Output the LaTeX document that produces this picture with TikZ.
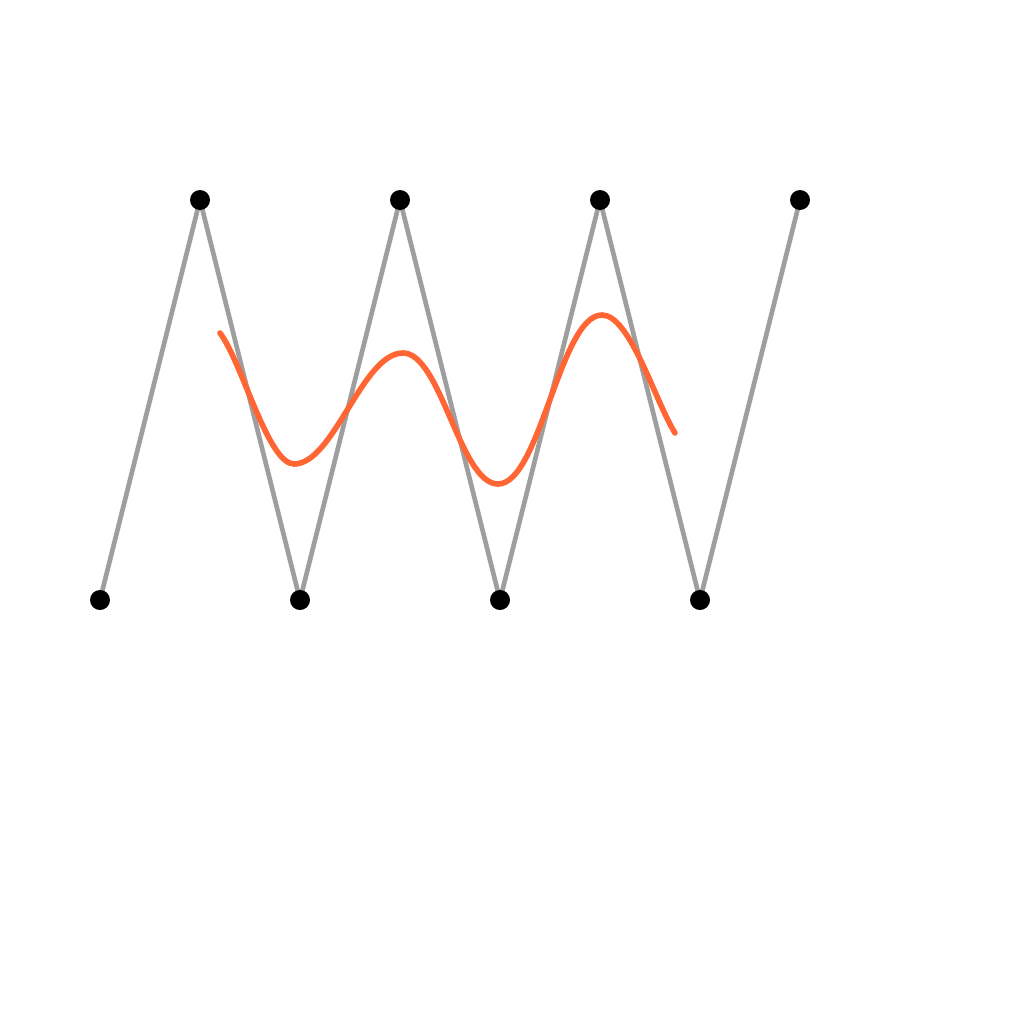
\documentclass[tikz,border=0pt]{standalone}
\definecolor{zig}{HTML}{9E9E9E}
\definecolor{wave}{HTML}{FF6633}
\tikzset{
  zigline/.style={draw=zig,line width=3.5pt},
  waveline/.style={draw=wave,line width=4.2pt,line cap=round},
  dot/.style={circle,fill=black,inner sep=0pt,minimum size=15pt}
}
\begin{document}
\begin{tikzpicture}[x=0.75pt,y=-0.75pt]
\useasboundingbox (0,0) rectangle (1024,1024);
\foreach \i/\x/\y in {a/100/600,b/200/200,c/300/600,d/400/200,e/500/600,f/600/200,g/700/600,h/800/200}
  \coordinate (\i) at (\x,\y);
\draw[zigline,line join=round] (a) -- (b) -- (c) -- (d) -- (e) -- (f) -- (g) -- (h);
\coordinate (s) at (220,333);
\coordinate (m1) at (294,464);
\coordinate (M1) at (403,353);
\coordinate (m2) at (498,484);
\coordinate (M2) at (602,315);
\coordinate (t) at (675,433);
\draw[waveline] (s) .. controls (242,362) and (268,464) .. (m1)
  .. controls (334,464) and (362,353) .. (M1)
  .. controls (441,353) and (460,484) .. (m2)
  .. controls (540,484) and (560,315) .. (M2)
  .. controls (630,315) and (655,401) .. (t);
\foreach \i in {a,b,c,d,e,f,g,h}
  \node[dot] (n\i) at (\i) {};
\end{tikzpicture}
\end{document}
